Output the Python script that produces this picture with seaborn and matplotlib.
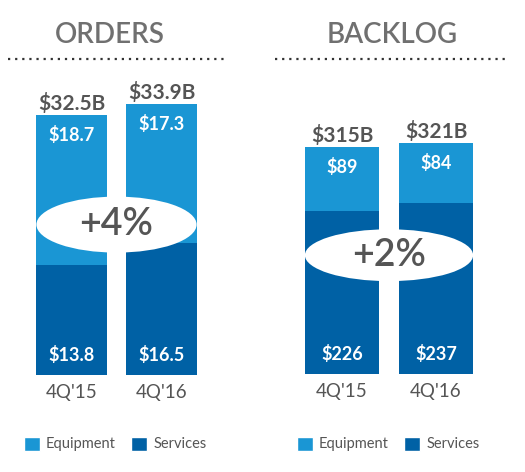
import pandas as pd
import numpy as np

import matplotlib.pyplot as plt
import seaborn as sns
from matplotlib.patches import Ellipse, Patch
from matplotlib.lines import Line2D

quarters = ["4Q'15", "4Q'16"]

orders_equipment = [18.7, 17.3]
orders_services = [13.8, 16.5]
orders_total = [32.5, 33.9]
orders_growth = "+4%"

backlog_equipment = [89, 84]
backlog_services = [226, 237]
backlog_total = [315, 321]
backlog_growth = "+2%"

equip_color = "#1a96d4"
serv_color = "#0061a5"
title_color = "#707070"
label_color = "#555555"

sns.set_theme(style="white")
plt.rcParams['font.family'] = ['Lato', 'DejaVu Sans']

W, H = 525, 472
fig = plt.figure(figsize=(W / 100, H / 100), dpi=100)


def px_axes(left, top, right, bottom):
    return fig.add_axes([left / W, 1 - bottom / H, (right - left) / W, (bottom - top) / H])


def draw_panel(ax, equipment, services, total, growth, ymax, bar_w, fmt_total, fmt_part,
               ell_w, ell_h, ell_y):
    df = pd.DataFrame({"Quarter": quarters, "Total": total, "Services": services})
    sns.barplot(x="Quarter", y="Total", data=df, color=equip_color, width=bar_w,
                saturation=1, ax=ax, linewidth=0)
    sns.barplot(x="Quarter", y="Services", data=df, color=serv_color, width=bar_w,
                saturation=1, ax=ax, linewidth=0)
    ax.set_xlim(-0.5, 1.5)
    ax.set_ylim(0, ymax)
    ax.set_xlabel("")
    ax.set_ylabel("")
    ax.set_yticks([])
    ax.set_xticks([])
    for s in ax.spines.values():
        s.set_visible(False)

    for i in range(len(quarters)):
        ax.text(i, total[i] + ymax * 0.003, fmt_total.format(total[i]), ha="center", va="bottom",
                fontsize=15, fontweight="bold", color=label_color, clip_on=False)
        ax.text(i, total[i] - ymax * 0.035, fmt_part.format(equipment[i]), ha="center", va="top",
                fontsize=13, fontweight="bold", color="white")
        ax.text(i, ymax * 0.035, fmt_part.format(services[i]), ha="center", va="bottom",
                fontsize=13, fontweight="bold", color="white")
        ax.text(i, -ymax * 0.03, quarters[i], ha="center", va="top",
                fontsize=13.5, color=label_color, clip_on=False)

    ell = Ellipse((0.5, ell_y), ell_w, ell_h, facecolor="white", edgecolor="none", zorder=5)
    ax.add_patch(ell)
    ax.text(0.5, ell_y, growth, ha="center", va="center", fontsize=27,
            fontweight="semibold", color="#555555", zorder=6)


# orders panel: baseline at y=375px, 8 px per $B
ax1 = px_axes(26.5, 60, 206.5, 375)
draw_panel(ax1, orders_equipment, orders_services, orders_total, orders_growth,
           ymax=315 / 8.0, bar_w=0.79, fmt_total="${:.1f}B", fmt_part="${:.1f}",
           ell_w=1.78, ell_h=7.0, ell_y=18.8)

# backlog panel: baseline at y=374px, 0.72 px per $B
ax2 = px_axes(295, 60, 483, 374)
draw_panel(ax2, backlog_equipment, backlog_services, backlog_total, backlog_growth,
           ymax=314 / 0.72, bar_w=0.787, fmt_total="${:d}B", fmt_part="${:d}",
           ell_w=1.79, ell_h=72, ell_y=165)

# titles and dotted rules
fig.text(110 / W, 1 - 35 / H, "ORDERS", ha="center", va="center", fontsize=20,
         fontweight="semibold", color=title_color)
fig.text(392 / W, 1 - 35 / H, "BACKLOG", ha="center", va="center", fontsize=20,
         fontweight="semibold", color=title_color)
for x0, x1 in [(8, 228), (275, 508)]:
    fig.add_artist(Line2D([x0 / W, x1 / W], [1 - 59 / H, 1 - 59 / H], color="#333333",
                          linestyle=(0, (1, 2.2)), linewidth=1.6))

# legends
handles = [Patch(facecolor=equip_color, label="Equipment"),
           Patch(facecolor=serv_color, label="Services")]
for cx in [115, 388]:
    fig.legend(handles=handles, loc="center", bbox_to_anchor=(cx / W, 1 - 444 / H),
               ncol=2, frameon=False, fontsize=10.5, handlelength=1.1, handleheight=1.1,
               handletextpad=0.4, columnspacing=1.1, labelcolor="#555555")

fig.savefig("out.png", dpi=100)
